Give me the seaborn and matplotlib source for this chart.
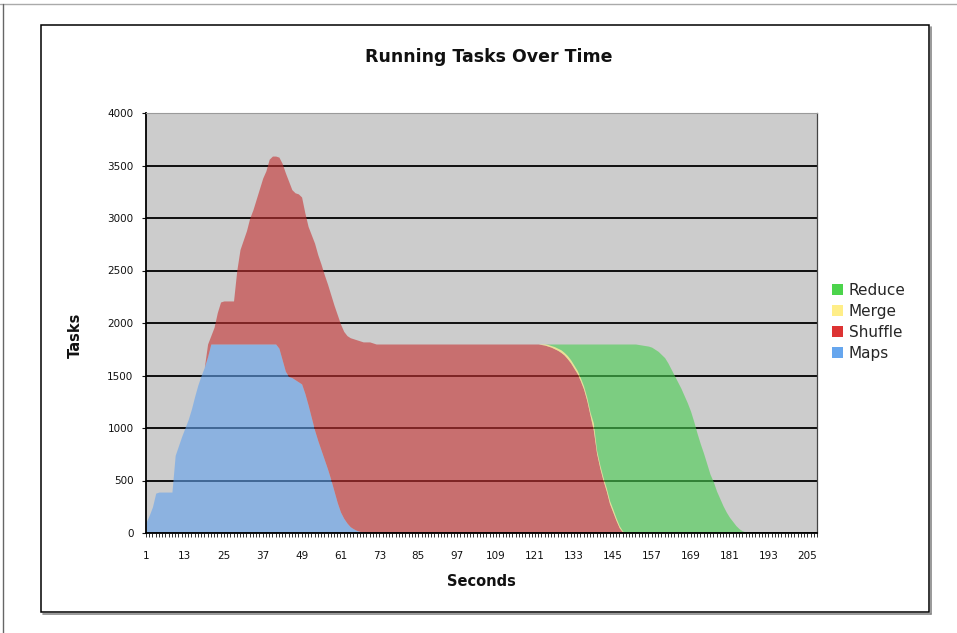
import matplotlib
matplotlib.use("Agg")
import matplotlib.pyplot as plt
import pandas as pd
import seaborn as sns
from matplotlib.patches import Patch, Rectangle
from matplotlib.lines import Line2D

# ---------------- data ----------------
seconds = list(range(1, 209))
tick_labels = ["1", "13", "25", "37", "49", "61", "73", "85", "97", "109",
               "121", "133", "145", "157", "169", "181", "193", "205"]
series_names = ["Reduce", "Merge", "Shuffle", "Maps"]

maps = [
    100, 170, 250, 380, 390, 390, 390, 390, 390, 740,
    830, 920, 1000, 1080, 1180, 1300, 1410, 1500, 1580, 1680,
    1800, 1800, 1800, 1800, 1800, 1800, 1800, 1800, 1800, 1800,
    1800, 1800, 1800, 1800, 1800, 1800, 1800, 1800, 1800, 1800,
    1800, 1760, 1650, 1540, 1490, 1480, 1460, 1440, 1420, 1330,
    1220, 1100, 980, 880, 790, 700, 610, 510, 400, 290,
    200, 140, 95, 60, 40, 25, 15, 8, 3, 0,
    0, 0, 0, 0, 0, 0, 0, 0, 0, 0,
    0, 0, 0, 0, 0, 0, 0, 0, 0, 0,
    0, 0, 0, 0, 0, 0, 0, 0, 0, 0,
    0, 0, 0, 0, 0, 0, 0, 0, 0, 0,
    0, 0, 0, 0, 0, 0, 0, 0, 0, 0,
    0, 0, 0, 0, 0, 0, 0, 0, 0, 0,
    0, 0, 0, 0, 0, 0, 0, 0, 0, 0,
    0, 0, 0, 0, 0, 0, 0, 0, 0, 0,
    0, 0, 0, 0, 0, 0, 0, 0, 0, 0,
    0, 0, 0, 0, 0, 0, 0, 0, 0, 0,
    0, 0, 0, 0, 0, 0, 0, 0, 0, 0,
    0, 0, 0, 0, 0, 0, 0, 0, 0, 0,
    0, 0, 0, 0, 0, 0, 0, 0, 0, 0,
    0, 0, 0, 0, 0, 0, 0, 0,
]

shuffle = [
    0, 0, 0, 0, 0, 0, 0, 0, 0, 0,
    0, 0, 0, 0, 0, 0, 0, 0, 0, 120,
    80, 160, 300, 400, 410, 410, 410, 410, 700, 900,
    990, 1080, 1200, 1280, 1380, 1480, 1580, 1650, 1760, 1790,
    1790, 1820, 1870, 1890, 1860, 1790, 1780, 1790, 1780, 1720,
    1700, 1740, 1780, 1770, 1770, 1760, 1760, 1760, 1770, 1790,
    1790, 1780, 1785, 1800, 1810, 1815, 1815, 1812, 1817, 1820,
    1810, 1800, 1800, 1800, 1800, 1800, 1800, 1800, 1800, 1800,
    1800, 1800, 1800, 1800, 1800, 1800, 1800, 1800, 1800, 1800,
    1800, 1800, 1800, 1800, 1800, 1800, 1800, 1800, 1800, 1800,
    1800, 1800, 1800, 1800, 1800, 1800, 1800, 1800, 1800, 1800,
    1800, 1800, 1800, 1800, 1800, 1800, 1800, 1800, 1800, 1800,
    1800, 1800, 1795, 1790, 1780, 1770, 1755, 1740, 1720, 1695,
    1660, 1620, 1570, 1520, 1450, 1370, 1260, 1120, 980, 760,
    620, 500, 400, 280, 200, 120, 50, 10, 0, 0,
    0, 0, 0, 0, 0, 0, 0, 0, 0, 0,
    0, 0, 0, 0, 0, 0, 0, 0, 0, 0,
    0, 0, 0, 0, 0, 0, 0, 0, 0, 0,
    0, 0, 0, 0, 0, 0, 0, 0, 0, 0,
    0, 0, 0, 0, 0, 0, 0, 0, 0, 0,
    0, 0, 0, 0, 0, 0, 0, 0,
]

merge = [
    0, 0, 0, 0, 0, 0, 0, 0, 0, 0,
    0, 0, 0, 0, 0, 0, 0, 0, 0, 0,
    0, 0, 0, 0, 0, 0, 0, 0, 0, 0,
    0, 0, 0, 0, 0, 0, 0, 0, 0, 0,
    0, 0, 0, 0, 0, 0, 0, 0, 0, 0,
    0, 0, 0, 0, 0, 0, 0, 0, 0, 0,
    0, 0, 0, 0, 0, 0, 0, 0, 0, 0,
    0, 0, 0, 0, 0, 0, 0, 0, 0, 0,
    0, 0, 0, 0, 0, 0, 0, 0, 0, 0,
    0, 0, 0, 0, 0, 0, 0, 0, 0, 0,
    0, 0, 0, 0, 0, 0, 0, 0, 0, 0,
    0, 0, 0, 0, 0, 0, 0, 0, 0, 0,
    0, 0, 5, 10, 15, 15, 20, 20, 25, 25,
    30, 30, 30, 30, 30, 30, 30, 30, 70, 30,
    30, 30, 30, 30, 30, 25, 20, 10, 0, 0,
    0, 0, 0, 0, 0, 0, 0, 0, 0, 0,
    0, 0, 0, 0, 0, 0, 0, 0, 0, 0,
    0, 0, 0, 0, 0, 0, 0, 0, 0, 0,
    0, 0, 0, 0, 0, 0, 0, 0, 0, 0,
    0, 0, 0, 0, 0, 0, 0, 0, 0, 0,
    0, 0, 0, 0, 0, 0, 0, 0,
]

reduce_ = [
    0, 0, 0, 0, 0, 0, 0, 0, 0, 0,
    0, 0, 0, 0, 0, 0, 0, 0, 0, 0,
    0, 0, 0, 0, 0, 0, 0, 0, 0, 0,
    0, 0, 0, 0, 0, 0, 0, 0, 0, 0,
    0, 0, 0, 0, 0, 0, 0, 0, 0, 0,
    0, 0, 0, 0, 0, 0, 0, 0, 0, 0,
    0, 0, 0, 0, 0, 0, 0, 0, 0, 0,
    0, 0, 0, 0, 0, 0, 0, 0, 0, 0,
    0, 0, 0, 0, 0, 0, 0, 0, 0, 0,
    0, 0, 0, 0, 0, 0, 0, 0, 0, 0,
    0, 0, 0, 0, 0, 0, 0, 0, 0, 0,
    0, 0, 0, 0, 0, 0, 0, 0, 0, 0,
    0, 0, 0, 0, 5, 15, 25, 40, 55, 80,
    110, 150, 200, 250, 320, 400, 510, 650, 750, 1010,
    1150, 1270, 1370, 1490, 1570, 1655, 1730, 1780, 1800, 1800,
    1800, 1800, 1795, 1790, 1785, 1780, 1770, 1750, 1730, 1700,
    1670, 1620, 1560, 1500, 1440, 1380, 1310, 1240, 1160, 1060,
    950, 850, 760, 660, 560, 490, 400, 330, 260, 200,
    150, 110, 70, 40, 20, 10, 0, 0, 0, 0,
    0, 0, 0, 0, 0, 0, 0, 0, 0, 0,
    0, 0, 0, 0, 0, 0, 0, 0,
]

# ---------------- styling ----------------
legend_colors = {"Reduce": "#4cd44c", "Merge": "#ffee88",
                 "Shuffle": "#dd3333", "Maps": "#66a6ee"}
fill_colors = {"Reduce": "#48ce50", "Merge": "#fff070",
               "Shuffle": "#c63232", "Maps": "#62a2ee"}

sns.set_style("white")
plt.rcParams["font.family"] = ["DejaVu Sans"]

rows = []
for name, vals in [("Maps", maps), ("Shuffle", shuffle),
                   ("Merge", merge), ("Reduce", reduce_)]:
    for s, v in zip(seconds, vals):
        rows.append({"second": s, "series": name, "tasks": v})
df = pd.DataFrame(rows)

W, H = 957, 633
fig = plt.figure(figsize=(W / 100, H / 100), dpi=100)
fig.patch.set_facecolor("white")

ax_l, ax_r, ax_t, ax_b = 146, 817, 113, 533
ax = fig.add_axes([ax_l / W, 1 - ax_b / H, (ax_r - ax_l) / W, (ax_b - ax_t) / H])
ax.set_facecolor("#cccccc")

sns.histplot(data=df, x="second", weights="tasks", hue="series",
             hue_order=series_names, multiple="stack", discrete=True,
             element="poly", fill=True, alpha=0.6, linewidth=0,
             palette=fill_colors, legend=False, ax=ax)

ax.set_xlim(1, 208)
ax.set_ylim(0, 4000)
ax.set_yticks(list(range(0, 4001, 500)))
ax.tick_params(axis="y", labelsize=7.5, length=3, width=0.8, pad=6,
               colors="#111111", direction="out", left=True)
ax.set_xticks([int(t) for t in tick_labels])
ax.set_xticklabels(tick_labels)
ax.set_xticks(seconds, minor=True)
ax.tick_params(axis="x", which="both", length=3, width=0.6,
               direction="out", bottom=True, colors="#111111")
ax.tick_params(axis="x", which="major", labelsize=7.5, pad=10)

ax.set_axisbelow(True)
ax.yaxis.grid(True, color="black", linewidth=1.3)
ax.xaxis.grid(False)
ax.get_ygridlines()[-1].set_visible(False)

ax.set_xlabel("")
ax.set_ylabel("")
for side in ["left", "bottom"]:
    ax.spines[side].set_color("black")
    ax.spines[side].set_linewidth(1.3)
ax.spines["top"].set_color("#9a9a9a")
ax.spines["top"].set_linewidth(0.8)
ax.spines["right"].set_color("#444444")
ax.spines["right"].set_linewidth(0.9)

# titles
fig.text(489 / W, 1 - 57 / H, "Running Tasks Over Time", ha="center",
         va="center", fontsize=12.5, fontweight="bold", color="#111111")
fig.text(481 / W, 1 - 581 / H, "Seconds", ha="center", va="center",
         fontsize=10.5, fontweight="bold", color="#111111")
fig.text(75 / W, 1 - 335 / H, "Tasks", ha="center", va="center",
         rotation=90, fontsize=10.5, fontweight="bold", color="#111111")

# legend
handles = [Patch(facecolor=legend_colors[n], edgecolor="none") for n in series_names]
fig.legend(handles, series_names, loc="center left",
           bbox_to_anchor=(832 / W, 1 - 322 / H), bbox_transform=fig.transFigure,
           frameon=False, fontsize=11, handlelength=0.75, handleheight=0.75,
           handletextpad=0.35, labelspacing=0.4, borderpad=0, borderaxespad=0)

# outer frames
fl, fr, ft, fb = 41, 929, 25, 612
fig.add_artist(Rectangle((fl / W, 1 - fb / H), (fr - fl) / W, (fb - ft) / H,
                         transform=fig.transFigure, fill=False,
                         edgecolor="black", linewidth=1.1))
fig.add_artist(Line2D([(fl + 2) / W, (fr + 2) / W], [1 - (fb + 2) / H] * 2,
                      transform=fig.transFigure, color="#888888", linewidth=1.2))
fig.add_artist(Line2D([(fr + 2) / W] * 2, [1 - (ft + 2) / H, 1 - (fb + 2) / H],
                      transform=fig.transFigure, color="#888888", linewidth=1.2))
fig.add_artist(Line2D([0, 1], [1 - 4 / H] * 2, transform=fig.transFigure,
                      color="#aaaaaa", linewidth=1.0))
fig.add_artist(Line2D([2.5 / W] * 2, [0, 1 - 4 / H], transform=fig.transFigure,
                      color="#666666", linewidth=1.0))

fig.savefig("out.png", dpi=100)
